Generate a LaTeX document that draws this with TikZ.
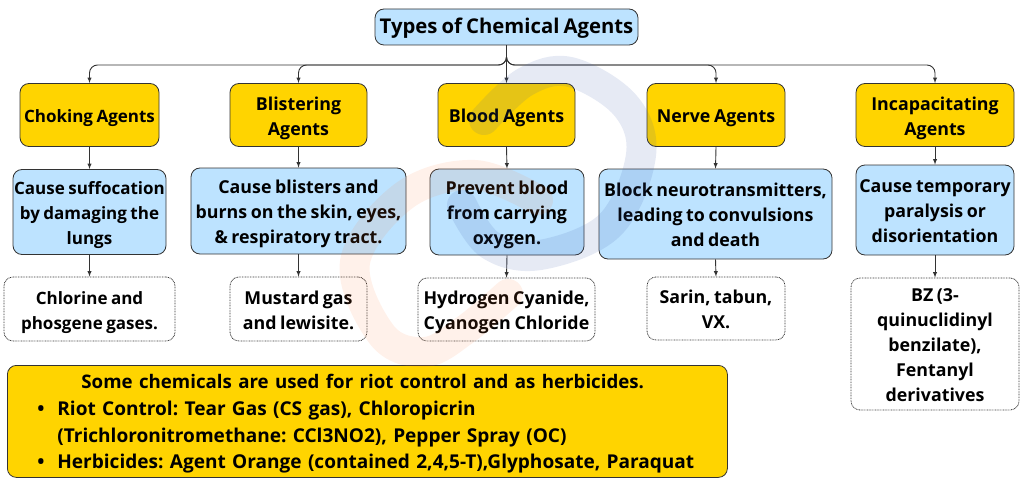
\documentclass[tikz,border=0pt]{standalone}
\usepackage{fontspec}
\setmainfont{Open Sans}[WordSpace=.78]
\frenchspacing
\usepackage{xcolor}
\usepackage{tikz}
\usetikzlibrary{arrows}
\usetikzlibrary{shapes,positioning,calc}
\definecolor{agentyellow}{HTML}{FFD400}
\definecolor{descblue}{HTML}{BDE3FF}
\definecolor{edgegrey}{HTML}{333333}
\definecolor{markblue}{RGB}{60,90,170}
\definecolor{markorange}{RGB}{255,120,50}
\newcommand{\boxlines}[1]{\raisebox{-7pt}[0pt][0pt]{\begin{tabular}[c]{@{}c@{}}#1\end{tabular}}}
\tikzset{
  basebox/.style={rounded corners=9pt,inner sep=0pt,font=\fontsize{17.8}{25}\selectfont\bfseries,draw=edgegrey,line width=.8pt},
  smalltext/.style={font=\fontsize{17}{25}\selectfont\bfseries},
  titlebox/.style={basebox,fill=descblue,font=\fontsize{20.3}{24}\selectfont\bfseries},
  agentbox/.style={basebox,fill=agentyellow},
  descbox/.style={basebox,fill=descblue},
  examplebox/.style={basebox,fill=white,dash pattern=on .8pt off .8pt},
  notebox/.style={basebox,fill=agentyellow,align=left,anchor=north west,text width=720pt,font=\fontsize{19.05}{26.6}\selectfont\bfseries,execute at begin node={\rule{0pt}{19.5pt}}},
  conn/.style={draw=edgegrey,line width=.9pt,solid,-latex},
  bendconn/.style={conn,rounded corners=8pt},
  markstroke/.style={line width=30pt,line cap=round,line join=round}
}
\begin{document}
\begin{tikzpicture}[x=1pt,y=-1pt]
    \useasboundingbox (0,0) rectangle (1024,484);
    \node[titlebox,minimum width=263pt,minimum height=36pt] (title) at (506.5,27) {\boxlines{Types of Chemical Agents}};
    \coordinate (bus) at (506.5,65);

    \node[agentbox,smalltext,minimum width=139pt,minimum height=63pt] (choke) at (89.5,115) {\boxlines{Choking Agents}};
    \node[agentbox,minimum width=137pt,minimum height=63pt] (blister) at (298.5,115) {\boxlines{Blistering\\Agents}};
    \node[agentbox,minimum width=137pt,minimum height=63pt] (blood) at (506.5,115) {\boxlines{Blood Agents}};
    \node[agentbox,minimum width=138pt,minimum height=63pt] (nerve) at (716,115) {\boxlines{Nerve Agents}};
    \node[agentbox,minimum width=158pt,minimum height=63pt] (incap) at (935,115) {\boxlines{Incapacitating\\Agents}};

    \node[descbox,smalltext,minimum width=153pt,minimum height=85pt] (chokedesc) at (89.5,212) {\boxlines{Cause suffocation\\by damaging the\\lungs}};
    \node[descbox,minimum width=215pt,minimum height=86pt] (blisterdesc) at (298.5,211) {\boxlines{Cause blisters and\\burns on the skin, eyes,\\\& respiratory tract.}};
    \node[descbox,minimum width=154pt,minimum height=86pt] (blooddesc) at (507,212) {\boxlines{Prevent blood\\from carrying\\oxygen.}};
    \node[descbox,minimum width=233pt,minimum height=90pt] (nervedesc) at (715.5,214) {\boxlines{Block neurotransmitters,\\leading to convulsions\\and death}};
    \node[descbox,minimum width=158pt,minimum height=90pt] (incapdesc) at (935,210) {\boxlines{Cause temporary\\paralysis or\\disorientation}};

    \node[examplebox,smalltext,minimum width=171pt,minimum height=64pt] (chokeex) at (89.5,309) {\boxlines{Chlorine and\\phosgene gases.}};
    \node[examplebox,minimum width=137pt,minimum height=64pt] (blisterex) at (298.5,309) {\boxlines{Mustard gas\\and lewisite.}};
    \node[examplebox,minimum width=177pt,minimum height=63pt] (bloodex) at (506.5,309.5) {\boxlines{Hydrogen Cyanide,\\Cyanogen Chloride}};
    \node[examplebox,minimum width=138pt,minimum height=63pt] (nerveex) at (716,308.5) {\boxlines{Sarin, tabun,\\VX.}};
    \node[examplebox,minimum width=168pt,minimum height=132pt] (incapex) at (935,344) {\boxlines{BZ (3-\\quinuclidinyl\\benzilate),\\Fentanyl\\derivatives}};

    \node[notebox,minimum height=112pt] (note) at (7,365) {%
      \hspace*{74pt}{\fontsize{18.7}{26.6}\selectfont Some chemicals are used for riot control and as herbicides.}\\
      \hspace*{30pt}\makebox[20pt][l]{\textbullet}Riot Control: Tear Gas (CS gas), Chloropicrin\\
      \hspace*{50pt}(Trichloronitromethane: CCl3NO2), Pepper Spray (OC)\\
      \hspace*{30pt}\makebox[20pt][l]{\textbullet}Herbicides: Agent Orange (contained 2,4,5-T),Glyphosate, Paraquat};

    \draw[bendconn] (title.south) -- (bus) -| (choke.north);
    \draw[bendconn] (title.south) -- (bus) -| (blister.north);
    \draw[bendconn] (title.south) -- (bus) -| (nerve.north);
    \draw[bendconn] (title.south) -- (bus) -| (incap.north);
    \draw[conn] (title.south) -- (blood.north);

    \foreach \kind in {choke,blister,blood,nerve,incap}{
      \draw[conn] (\kind.south) -- (\kind desc.north);
      \draw[conn] (\kind desc.south) -- (\kind ex.north);
    }

    \draw[markstroke,draw=markblue,opacity=.13] plot[smooth,tension=.6] coordinates {(484,120) (525,82) (570,72) (625,105) (641,155) (610,225) (540,255) (490,245) (462,205)};
    \draw[markstroke,draw=markorange,opacity=.1] plot[smooth,tension=.6] coordinates {(538,200) (475,175) (405,195) (355,262) (382,335) (425,352) (465,330) (508,294)};
\end{tikzpicture}
\end{document}
